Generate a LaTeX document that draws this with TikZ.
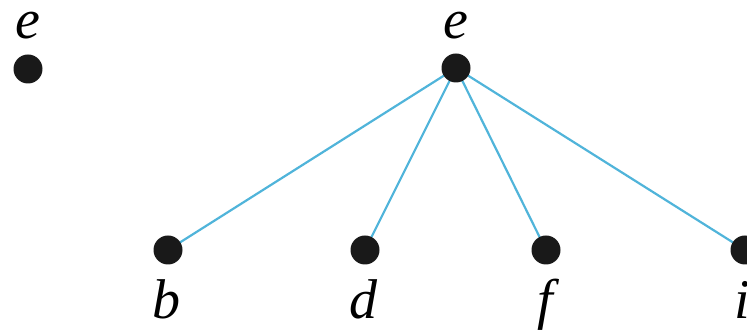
\documentclass[tikz,border=0pt]{standalone}
\usepackage{fontspec}
\setmainfont{Liberation Serif}
\tikzset{
  vtx/.style={circle,fill=black!90,inner sep=0pt,minimum size=29pt},
  edge/.style={draw={rgb,255:red,80;green,180;blue,218},line width=2.2pt},
  lbl/.style={font=\fontsize{56}{56}\selectfont\itshape,inner sep=0pt,anchor=base}
}
\begin{document}
\begin{tikzpicture}[x=1pt,y=1pt]
  \useasboundingbox (0,0) rectangle (747,331);
  % isolated vertex
  \node[vtx] (e1) at (28,262) {};
  \node[lbl] (le1) at (28,292) {e};
  % star with centre e
  \node[lbl] (le) at (456,292) {e};
  \coordinate (ce) at (456,263);
  \coordinate (cb) at (168,81);
  \coordinate (cd) at (365,81);
  \coordinate (cf) at (546,81);
  \coordinate (ci) at (745,81);
  % edges first, vertices on top
  \foreach \t in {b,d,f,i}
    \draw[edge] (ce) -- (c\t);
  \node[vtx] (e) at (ce) {};
  \node[vtx] (b) at (cb) {};
  \node[vtx] (d) at (cd) {};
  \node[vtx] (f) at (cf) {};
  \node[vtx] (i) at (ci) {};
  \node[lbl] (lb) at (166,12) {b};
  \node[lbl] (ld) at (363,12) {d};
  \node[lbl] (lf) at (545,12) {f};
  \node[lbl] (li) at (742,12) {i};
\end{tikzpicture}
\end{document}
